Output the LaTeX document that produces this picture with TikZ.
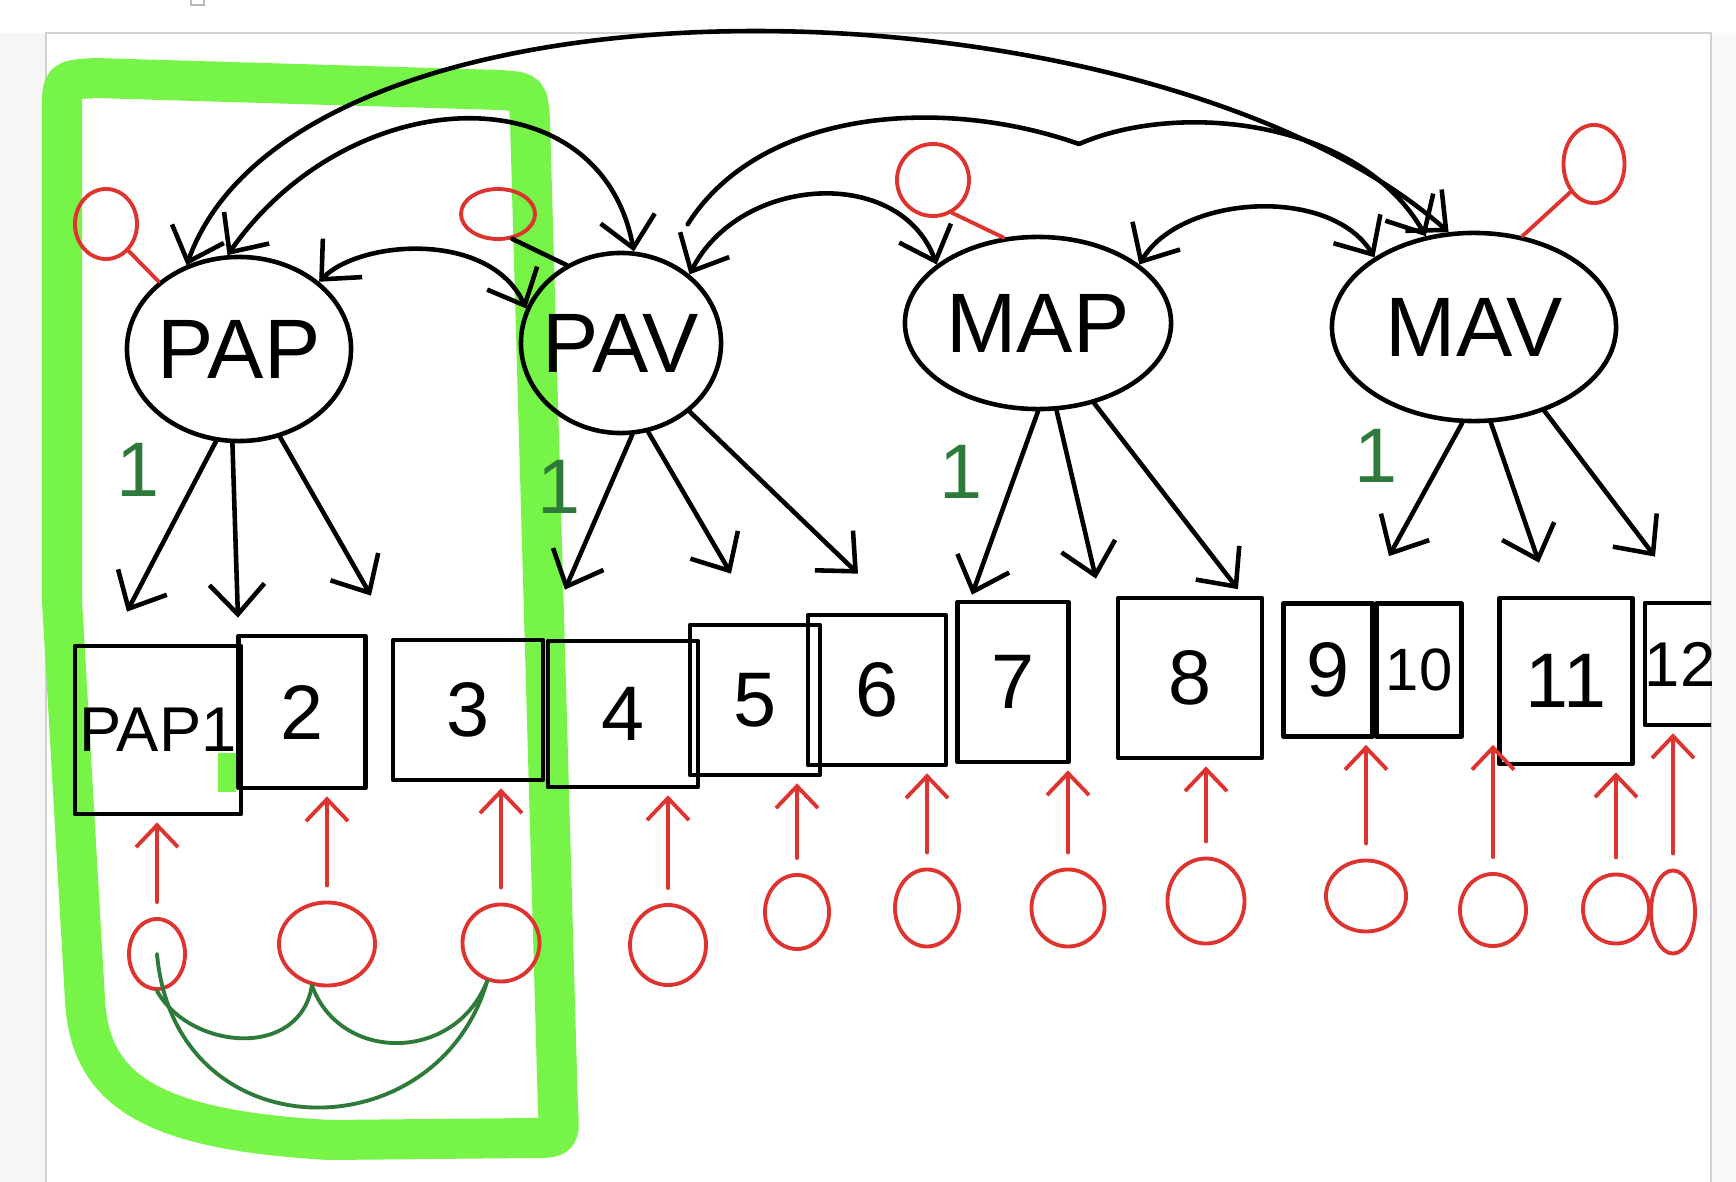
\documentclass[tikz,border=0pt]{standalone}
\usepackage{fontspec}
\setmainfont{Liberation Sans}
\usetikzlibrary{arrows.meta,shapes.geometric}
\definecolor{hlgreen}{RGB}{118,245,72}
\definecolor{penred}{RGB}{222,52,48}
\definecolor{pengreen}{RGB}{46,122,58}
% loading arrow: latent anchor, indicator box, shift of the tip
\newcommand{\loading}[4]{
	\draw[loadarrow] (#1) -- ([xshift=#3,yshift=#4]#2.north);
}

\begin{document}
\begin{tikzpicture}[x=0.01cm,y=-0.01cm,
	>={Straight Barb[length=3mm,width=5.5mm]},
	inkline/.style={line width=1.3pt, line cap=round, line join=round},
	latent/.style={inkline, draw, ellipse, inner xsep=-8pt, inner ysep=0pt, font=\fontsize{24}{26}\selectfont},
	observed/.style={inkline, draw, rectangle, inner sep=0pt, font=\fontsize{22}{24}\selectfont},
	errcirc/.style={draw=penred, line width=1.1pt, ellipse, inner sep=0pt},
	errline/.style={draw=penred, line width=1.1pt, line cap=round},
	loadarrow/.style={inkline, ->},
	errarrow/.style={errline, -{Straight Barb[length=2.2mm,width=4.2mm]}, shorten <=0.15cm, shorten >=0.06cm},
	covarrow/.style={inkline, <->},
	gcov/.style={draw=pengreen, line width=1.1pt, line cap=round},
	fixone/.style={text=pengreen, inner sep=0pt, font=\fontsize{22}{24}\selectfont}]
	\useasboundingbox (0,0) rectangle (1736,1182);
	\fill[gray!7] (0,33) rectangle (46,1182);
	\fill[gray!5] (1711,33) rectangle (1736,1182);
	\draw[gray!35, line width=0.6pt] (46,1182) -- (46,33) -- (1711,33) -- (1711,1182);
	\draw[gray!55, line width=0.5pt] (191,-3) rectangle (204,5);

	\begin{scope}
	\clip (0,-20) rectangle (1711,1190);

	% block of the PAP indicators
	\draw[hlgreen, line width=0.4cm, line join=round]
		(62,600) -- (62,110) .. controls (62,80) .. (95,78) -- (500,90)
		.. controls (528,92) .. (530,120) -- (558,1110) .. controls (560,1138) .. (530,1138)
		-- (330,1140) .. controls (150,1130) and (90,1090) .. (85,1000) -- cycle;
	\fill[hlgreen] (218,753) rectangle (236,792);

	\node[latent, minimum width=2.24cm, minimum height=1.84cm] (PAP) at (239,349) {PAP};
	\node[latent, minimum width=2.0cm, minimum height=1.8cm] (PAV) at (621,343) {PAV};
	\node[latent, minimum width=2.66cm, minimum height=1.72cm] (MAP) at (1038,323) {MAP};
	\node[latent, minimum width=2.84cm, minimum height=1.88cm] (MAV) at (1474,327) {MAV};

	\node[errcirc, minimum width=0.62cm, minimum height=0.70cm] (dPAP) at (106,224) {};
	\node[errcirc, minimum width=0.74cm, minimum height=0.50cm] (dPAV) at (498,214) {};
	\node[errcirc, minimum width=0.72cm, minimum height=0.72cm] (dMAP) at (933,180) {};
	\node[errcirc, minimum width=0.61cm, minimum height=0.78cm] (dMAV) at (1594,164) {};

	\draw[errline] (dPAP.-50) -- (PAP.140);
	\draw[inkline] (dPAV.-60) -- (PAV.125);
	\draw[errline] (dMAP.-60) -- (MAP.112);
	\draw[errline] (dMAV.-130) -- (MAV.62);

	\foreach \n/\x/\y/\w/\h/\t in {1/158/730/1.66/1.68/{\fontsize{18}{20}\selectfont PAP1},
		2/302/712/1.27/1.52/2, 3/468/710/1.50/1.40/3, 4/623/714/1.50/1.46/4,
		5/755/700/1.30/1.50/5, 6/877/690/1.38/1.50/6, 7/1013/682/1.11/1.60/7,
		8/1190/678/1.44/1.60/8, 9/1328/670/0.89/1.33/9,
		10/1419/670/0.85/1.33/{\fontsize{17}{20}\selectfont 10},
		11/1566/681/1.33/1.66/11, 12/1680/664/0.62/1.22/{\fontsize{18}{20}\selectfont 12}}
		\node[observed, minimum width=\w cm, minimum height=\h cm] (b\n) at (\x,\y) {\t};

	\foreach \n/\x/\y/\w/\h in {1/157/954/0.56/0.70, 2/327/944/0.96/0.83,
		3/501/943/0.77/0.77, 4/668/945/0.76/0.80, 5/797/912/0.64/0.74,
		6/927/908/0.64/0.77, 7/1068/908/0.73/0.77, 8/1206/901/0.77/0.85,
		9/1366/896/0.80/0.71, 10/1493/910/0.66/0.72, 11/1616/909/0.66/0.69,
		12/1673/912/0.44/0.83}
		\node[errcirc, minimum width=\w cm, minimum height=\h cm] (e\n) at (\x,\y) {};

	\foreach \n in {1,...,12}
		\draw[errarrow] (e\n.north) -- (e\n.north |- b\n.south);

	\node[fixone] (one1) at (138,470) {1};
	\node[fixone] (one2) at (559,487) {1};
	\node[fixone] (one3) at (961,472) {1};
	\node[fixone] (one4) at (1376,456) {1};

	\loading{PAP.-104}{b1}{-0.31cm}{0.32cm}
	\loading{PAP.-94}{b2}{-0.64cm}{0.16cm}
	\loading{PAP.-65}{b3}{-0.97cm}{0.42cm}
	\loading{PAV.-83}{b4}{-0.58cm}{0.49cm}
	\loading{PAV.-73}{b5}{-0.24cm}{0.49cm}
	\loading{PAV.-45}{b6}{-0.19cm}{0.39cm}
	\loading{MAP.-90}{b7}{-0.41cm}{0.05cm}
	\loading{MAP.-78}{b8}{-0.94cm}{0.17cm}
	\loading{MAP.-55}{b9}{-0.90cm}{0.12cm}
	\loading{MAV.-97}{b10}{-0.30cm}{0.45cm}
	\loading{MAV.-80}{b11}{-0.27cm}{0.33cm}
	\loading{MAV.-50}{b12}{-0.25cm}{0.44cm}

	% covariances of the latents
	\draw[covarrow] (PAP.40) .. controls (360,240) and (490,230) .. (PAV.160);
	\draw[covarrow] (PAV.45) .. controls (740,175) and (900,165) .. (MAP.150);
	\draw[covarrow] (MAP.30) .. controls (1180,195) and (1330,185) .. (MAV.145);
	\draw[covarrow] (PAP.97) .. controls (350,80) and (600,70) .. (PAV.82);
	\draw[inkline, ->, shorten <=0.42cm] (PAV.62) .. controls (760,110) and (940,95) .. (1079,144)
		.. controls (1180,100) and (1360,120) .. (MAV.118);
	\draw[covarrow] (PAP.122) .. controls (300,-50) and (1150,-30) .. (MAV.105);

	% residual covariances
	\draw[gcov] (e1.south) .. controls (190,1050) and (300,1060) .. (e2.-110);
	\draw[gcov] (e2.-110) .. controls (340,1063) and (455,1063) .. (e3.-110);
	\draw[gcov] (e1.center) .. controls (175,1154) and (437,1154) .. (e3.-110);
	\end{scope}
\end{tikzpicture}
\end{document}
